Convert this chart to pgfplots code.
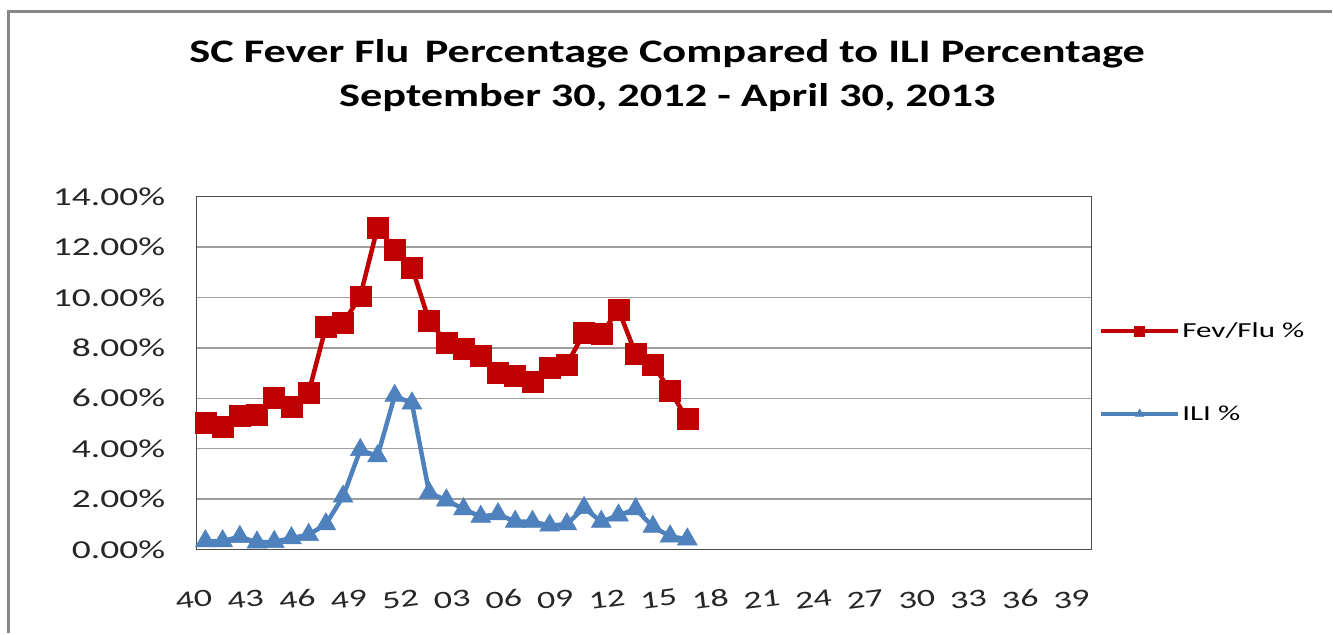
\documentclass[border=0pt]{standalone}
\usepackage{fontspec}
\setmainfont[FakeStretch=1.45]{Carlito}
\newfontfamily\titlefont[FakeStretch=1.35]{Carlito}
\usepackage{pgfplots}
\pgfplotsset{compat=1.18}
\definecolor{fevred}{HTML}{C00000}
\definecolor{iliblue}{HTML}{4F81BD}
\begin{document}
\begin{tikzpicture}[x=1bp,y=1bp]
\path (0,0) rectangle (1333,634);
\draw[color=black!47, line width=3bp] (9,0) -- (9,622.5) -- (1333,622.5);
\node[font=\titlefont\fontsize{33}{38}\selectfont\bfseries] at (668,580) {SC Fever Flu\, Percentage Compared to ILI Percentage};
\node[font=\titlefont\fontsize{33}{38}\selectfont\bfseries] at (668,536) {September 30, 2012 - April 30, 2013};
\begin{axis}[
  at={(197bp,84bp)}, anchor=south west,
  scale only axis, width=896bp, height=353bp,
  xmin=-0.5, xmax=51.5, ymin=0, ymax=14,
  xtick={0,3,...,51},
  xticklabels={40,43,46,49,52,03,06,09,12,15,18,21,24,27,30,33,36,39},
  ytick={0,2,...,14},
  yticklabel={\pgfmathprintnumber[fixed,fixed zerofill,precision=2]{\tick}\%},
  /pgf/number format/assume math mode=true,
  major tick length=0pt,
  ymajorgrids,
  grid style={color=black!38, line width=1.3bp},
  axis line style={color=black!70, line width=1.3bp},
  tick label style={font=\fontsize{26}{30}\selectfont, color=black!85},
  xticklabel style={font=\fontsize{25}{30}\selectfont, rotate=7, anchor=east, inner sep=0pt, yshift=-48bp, xshift=1bp},
  yticklabel style={xshift=-28bp},
  legend style={at={(1.0,0.655)}, anchor=north west, draw=none, fill=none,
    font=\fontsize{21.5}{26}\selectfont, row sep=63bp, xshift=4bp,
    legend cell align=left},
  legend image code/.code={
    \draw[#1, mark=none] (0bp,0bp) -- (77bp,0bp);
    \path[#1, mark size=5bp] plot coordinates {(38.5bp,0bp)};
  },
  clip=false,
]
\addplot[color=fevred, line width=4.5bp, mark=square*, mark size=10.5bp, mark options={solid, line width=0.5bp}] coordinates {
(0,5.03) (1,4.88) (2,5.29) (3,5.36) (4,6.03) (5,5.65) (6,6.23) (7,8.83) (8,8.98) (9,10.05)
(10,12.78) (11,11.9) (12,11.19) (13,9.07) (14,8.22) (15,7.95) (16,7.67) (17,7.0) (18,6.88) (19,6.67)
(20,7.2) (21,7.34) (22,8.6) (23,8.55) (24,9.52) (25,7.76) (26,7.34) (27,6.3) (28,5.17)
};
\addlegendentry{Fev/Flu \%}
\addplot[color=iliblue, line width=4.5bp, mark=triangle*, mark size=11.5bp, mark options={solid, line width=0.5bp}] coordinates {
(0,0.33) (1,0.33) (2,0.5) (3,0.28) (4,0.3) (5,0.45) (6,0.58) (7,1.0) (8,2.1) (9,3.95)
(10,3.7) (11,6.1) (12,5.8) (13,2.25) (14,1.95) (15,1.6) (16,1.3) (17,1.4) (18,1.1) (19,1.1)
(20,0.95) (21,1.0) (22,1.65) (23,1.1) (24,1.35) (25,1.6) (26,0.9) (27,0.52) (28,0.4)
};
\addlegendentry{ILI \%}
\end{axis}
\end{tikzpicture}
\end{document}
